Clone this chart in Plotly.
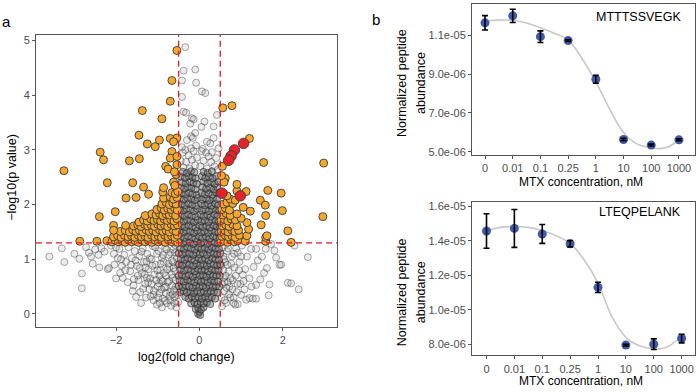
import math
import plotly.graph_objects as go

# ---------------- Volcano data (log2 fold change, -log10 p) ----------------
gray_left = [(-3.60,1.05),(-3.24,0.95),(-2.88,1.01),(-2.82,0.74),(-2.82,0.47),(-2.72,1.22),(-2.65,1.12),(-2.56,0.92),
 (-2.50,1.18),(-2.42,1.08),(-2.35,1.20),(-2.28,1.14),(-2.20,0.82),(-2.17,0.84),(-2.12,1.25),(-2.05,1.10),(-2.04,0.90),
 (-2.00,0.65),(-1.96,1.02),(-1.92,1.19),(-1.86,0.88),(-1.84,0.66),(-1.80,1.08),(-1.76,0.95),(-1.70,1.22),(-1.66,0.78),
 (-1.62,1.02),(-1.58,0.52),(-1.55,1.15),(-1.52,0.31),(-1.50,0.88),(-1.46,0.62),(-1.44,1.06),(-1.42,0.40),(-1.38,0.75),
 (-1.36,1.20),(-1.33,0.95),(-1.30,0.55),(-1.28,0.30),(-1.25,1.10),(-1.22,0.82),(-1.20,0.45),(-1.18,0.65),(-1.15,1.00),
 (-1.12,1.24),(-1.10,0.25),(-1.08,0.72),(-1.05,0.90),(-1.02,0.17),(-1.00,0.50),(-0.98,1.15),(-0.96,0.38),(-0.94,0.80),
 (-0.92,0.62),(-0.90,1.02),(-0.88,0.28),(-0.86,0.95),(-0.84,0.48),(-0.82,1.22),(-0.80,0.70),(-0.78,0.20),(-0.76,0.58),
 (-0.74,1.08),(-0.72,0.86),(-0.70,0.40),(-0.68,0.15),(-0.66,0.98),(-0.64,0.66),(-0.62,1.18),(-0.60,0.30),(-0.58,0.78),
 (-0.56,0.50),(-0.55,0.12),(-0.54,1.02),(-0.52,0.90),(-0.51,0.22),(-0.80,0.38),(-1.30,0.85),(-1.90,0.75),(-2.40,0.85),
 (-1.60,0.42),(-1.10,0.35),(-0.90,0.12),(-1.40,0.20),(-0.70,0.25),(-2.60,1.05),(-3.00,1.10),(-3.30,1.20),(-2.00,1.22),
 (-1.15,0.55),(-0.66,0.52),(-0.74,0.92),(-0.62,0.84),(-0.88,0.60),(-1.02,1.10),(-0.58,1.26),(-0.96,0.70),(-1.26,0.66),
 (-0.53,0.35),(-0.57,0.62),(-0.61,0.44),(-0.63,0.95),(-0.67,0.72),(-0.69,1.12),(-0.71,0.33),(-0.73,0.60),(-0.77,0.82),
 (-0.79,1.18),(-0.81,0.50),(-0.83,0.24),(-0.85,0.75),(-0.87,1.08),(-0.91,0.45),(-0.93,0.92),(-0.97,0.56),(-0.99,0.30),
 (-1.01,0.80),(-1.04,0.62),(-1.06,1.22),(-1.09,0.42),(-1.13,0.88),(-1.17,0.32),(-1.19,1.02),(-1.23,0.58),(-1.27,0.96),
 (-1.31,0.72),(-1.35,0.46),(-1.39,1.14),(-1.43,0.84),(-1.48,0.70),(-1.53,0.98),(-1.57,0.64),(-1.64,0.90),(-1.72,0.58),
 (-1.78,0.80),(-1.88,1.00),(-0.60,0.20),(-0.95,0.20),(-0.58,1.12),(-0.64,0.36)]

gray_right = [(2.60,1.04),(2.38,0.45),(2.12,0.57),(2.20,0.56),(1.68,0.54),(1.66,0.34),(1.92,0.90),(1.96,0.90),(1.62,0.84),
 (1.84,1.03),(1.80,1.16),(1.59,1.19),(1.36,1.19),(1.24,1.19),(1.30,0.86),(1.46,0.63),(1.36,0.53),(1.20,0.65),(1.08,0.45),
 (1.04,0.72),(0.96,0.95),(0.92,1.12),(1.20,0.29),(1.28,0.28),(1.36,0.28),(1.12,0.26),(0.92,0.18),(0.86,0.17),(1.72,1.28),
 (2.28,1.25),(1.50,1.05),(1.40,0.98),(1.14,1.05),(1.02,1.25),(0.98,0.55),(0.90,0.40),(0.84,0.85),(0.80,0.62),(0.78,1.05),
 (0.74,0.30),(0.72,0.50),(0.70,0.78),(0.66,1.15),(0.64,0.20),(0.62,0.95),(0.60,0.42),(0.58,0.66),(0.56,1.22),(0.54,0.14),
 (0.52,0.88),(1.10,0.82),(1.25,0.50),(0.88,1.20),(1.55,0.75),(1.00,0.35),(0.68,0.58),(0.76,0.92),(0.58,1.05),(0.82,0.30),
 (0.53,0.30),(0.55,0.55),(0.57,0.80),(0.59,1.00),(0.61,0.25),(0.63,0.70),(0.65,0.48),(0.67,0.90),(0.69,1.20),(0.71,0.36),
 (0.75,0.65),(0.79,0.45),(0.83,1.10),(0.87,0.70),(0.91,0.55),(0.95,0.80),(1.00,1.05),(1.06,0.60),(0.82,0.20),(0.60,0.58)]

gray_core = [(-0.03,0.00),(0.02,-0.02),(0.00,0.04),(-0.09,0.09),(-0.03,0.11),(0.04,0.08),(0.10,0.12),
 (-0.20,0.19),(-0.12,0.21),(-0.05,0.18),(0.03,0.22),(0.10,0.19),(0.18,0.21),(0.26,0.18),
 (-0.34,0.31),(-0.26,0.28),(-0.18,0.32),(-0.10,0.29),(-0.02,0.31),(0.06,0.28),(0.14,0.32),(0.22,0.29),(0.30,0.31),(0.38,0.28),
 (-0.46,0.40),(-0.38,0.42),(-0.30,0.39),(-0.21,0.41),(-0.13,0.38),(-0.05,0.42),(0.03,0.39),(0.11,0.41),(0.19,0.38),(0.27,0.42),(0.35,0.40),(0.44,0.39),
 (-0.50,0.51),(-0.41,0.49),(-0.33,0.52),(-0.24,0.50),(-0.16,0.48),(-0.08,0.52),(0.00,0.49),(0.08,0.51),(0.16,0.48),(0.24,0.52),(0.32,0.49),(0.40,0.51),(0.48,0.50),
 (-0.47,0.61),(-0.38,0.59),(-0.29,0.62),(-0.20,0.60),(-0.12,0.58),(-0.04,0.62),(0.04,0.59),(0.12,0.61),(0.20,0.58),(0.28,0.62),(0.36,0.60),(0.45,0.59),
 (-0.50,0.70),(-0.42,0.72),(-0.33,0.69),(-0.25,0.71),(-0.16,0.68),(-0.08,0.72),(0.01,0.70),(0.09,0.71),(0.17,0.68),(0.25,0.72),(0.33,0.69),(0.41,0.71),(0.49,0.70),
 (-0.46,0.81),(-0.37,0.79),(-0.28,0.82),(-0.20,0.80),(-0.11,0.78),(-0.03,0.82),(0.05,0.79),(0.13,0.81),(0.21,0.78),(0.29,0.82),(0.38,0.80),(0.46,0.79),
 (-0.49,0.91),(-0.41,0.89),(-0.32,0.92),(-0.24,0.90),(-0.15,0.88),(-0.07,0.92),(0.02,0.89),(0.10,0.91),(0.18,0.88),(0.26,0.92),(0.34,0.90),(0.43,0.89),(0.50,0.91),
 (-0.45,1.01),(-0.36,0.99),(-0.28,1.02),(-0.19,1.00),(-0.11,0.98),(-0.02,1.02),(0.06,0.99),(0.14,1.01),(0.22,0.98),(0.31,1.02),(0.39,1.00),(0.47,0.99),
 (-0.50,1.11),(-0.41,1.09),(-0.33,1.12),(-0.24,1.10),(-0.15,1.08),(-0.07,1.12),(0.01,1.09),(0.09,1.11),(0.18,1.08),(0.26,1.12),(0.35,1.10),(0.43,1.09),(0.50,1.11),
 (-0.46,1.21),(-0.37,1.19),(-0.29,1.22),(-0.20,1.20),(-0.11,1.18),(-0.03,1.22),(0.05,1.19),(0.13,1.21),(0.22,1.18),(0.30,1.22),(0.39,1.20),(0.47,1.19),
 (-0.49,1.31),(-0.40,1.29),(-0.32,1.32),(-0.23,1.30),(-0.14,1.28),(-0.06,1.32),(0.03,1.29),(0.11,1.31),(0.20,1.28),(0.28,1.32),(0.37,1.30),(0.45,1.29),
 (-0.45,1.41),(-0.36,1.39),(-0.27,1.42),(-0.18,1.40),(-0.10,1.38),(-0.01,1.42),(0.07,1.39),(0.16,1.41),(0.24,1.38),(0.33,1.42),(0.41,1.40),(0.49,1.39),
 (-0.48,1.51),(-0.39,1.49),(-0.31,1.52),(-0.22,1.50),(-0.13,1.48),(-0.05,1.52),(0.04,1.49),(0.12,1.51),(0.21,1.48),(0.29,1.52),(0.38,1.50),(0.46,1.49),
 (-0.44,1.61),(-0.35,1.59),(-0.26,1.62),(-0.17,1.60),(-0.09,1.58),(0.00,1.62),(0.08,1.59),(0.17,1.61),(0.25,1.58),(0.34,1.62),(0.42,1.60),(0.50,1.59),
 (-0.48,1.71),(-0.39,1.69),(-0.30,1.72),(-0.21,1.70),(-0.13,1.68),(-0.04,1.72),(0.05,1.69),(0.13,1.71),(0.22,1.68),(0.30,1.72),(0.39,1.70),(0.47,1.69),
 (-0.45,1.81),(-0.36,1.79),(-0.27,1.82),(-0.18,1.80),(-0.09,1.78),(0.02,1.82),(0.10,1.79),(0.19,1.81),(0.27,1.78),(0.36,1.82),(0.44,1.80),
 (-0.48,1.91),(-0.40,1.89),(-0.31,1.92),(-0.22,1.90),(-0.13,1.88),(-0.05,1.92),(0.06,1.89),(0.14,1.91),(0.23,1.88),(0.31,1.92),(0.40,1.90),(0.48,1.89),
 (-0.44,2.01),(-0.35,1.99),(-0.26,2.02),(-0.17,2.00),(-0.08,1.98),(0.04,2.02),(0.12,1.99),(0.21,2.01),(0.29,1.98),(0.38,2.02),(0.46,2.00),
 (-0.47,2.11),(-0.38,2.09),(-0.29,2.12),(-0.20,2.10),(-0.11,2.08),(-0.04,2.12),(0.07,2.09),(0.16,2.11),(0.24,2.08),(0.33,2.12),(0.42,2.10),
 (-0.43,2.21),(-0.34,2.19),(-0.25,2.22),(-0.16,2.20),(-0.07,2.18),(0.05,2.22),(0.13,2.19),(0.22,2.21),(0.31,2.18),(0.40,2.22),(0.48,2.20),
 (-0.46,2.31),(-0.37,2.29),(-0.28,2.32),(-0.19,2.30),(-0.10,2.28),(0.07,2.32),(0.16,2.29),(0.25,2.31),(0.34,2.28),(0.43,2.32),
 (-0.42,2.41),(-0.33,2.39),(-0.23,2.42),(-0.14,2.40),(-0.06,2.38),(0.09,2.42),(0.19,2.39),(0.28,2.41),(0.37,2.38),(0.46,2.42),
 (-0.45,2.51),(-0.35,2.49),(-0.26,2.52),(-0.17,2.50),(-0.09,2.48),(0.06,2.52),(0.14,2.49),(0.23,2.51),(0.32,2.48),(0.41,2.52),
 (-0.40,2.60),(-0.30,2.58),(-0.20,2.61),(-0.12,2.59),(0.10,2.60),(0.20,2.58),(0.30,2.61)]

gray_top = [(-0.34,4.88),(-0.38,4.45),(-0.10,4.47),(-0.42,4.27),(-0.08,4.23),(0.06,4.07),(0.14,4.04),(-0.42,3.97),
 (-0.38,3.70),(-0.32,3.68),(0.42,3.64),(0.34,3.43),(0.12,3.52),(-0.18,3.58),(-0.14,3.56),(-0.22,3.48),(0.05,3.42),
 (-0.10,3.31),(-0.20,3.25),(-0.16,3.22),(-0.30,3.18),(0.18,3.15),(0.26,3.12),(0.34,3.22),(-0.42,3.05),(-0.34,3.00),
 (-0.20,3.03),(-0.08,3.08),(0.08,3.02),(0.46,3.03),(-0.40,2.95),(-0.14,2.98),(0.05,2.98),(0.16,2.95),(0.30,2.96),
 (-0.26,2.90),(0.22,2.88),(-0.06,2.86),(0.40,2.85),(-0.45,2.80),(-0.32,2.78),(-0.18,2.82),(0.10,2.80),(0.28,2.78),
 (-0.10,2.72),(0.02,2.70),(0.36,2.70),(-0.38,2.68),(-0.24,2.66),(0.18,2.66),(0.44,2.64)]

orange_left = [(-2.87,1.33),(-2.46,1.33),(-2.22,1.34),(-2.10,1.32),(-2.02,1.35),(-1.94,1.32),(-1.86,1.34),(-1.78,1.31),
 (-1.70,1.35),(-1.62,1.32),(-1.54,1.34),(-1.46,1.31),(-1.38,1.35),(-1.30,1.32),(-1.22,1.34),(-1.14,1.31),(-1.06,1.35),
 (-0.98,1.32),(-0.90,1.34),(-0.82,1.31),(-0.74,1.35),(-0.66,1.32),(-0.58,1.34),(-0.52,1.31),
 (-2.06,1.41),(-1.96,1.43),(-1.88,1.40),(-1.80,1.44),(-1.71,1.41),(-1.63,1.43),(-1.55,1.40),(-1.47,1.44),(-1.39,1.41),
 (-1.31,1.43),(-1.23,1.40),(-1.15,1.44),(-1.07,1.41),(-0.99,1.43),(-0.91,1.40),(-0.83,1.44),(-0.75,1.41),(-0.67,1.43),
 (-0.59,1.40),(-0.53,1.44),
 (-1.90,1.51),(-1.78,1.53),(-1.68,1.50),(-1.60,1.54),(-1.52,1.51),(-1.44,1.53),(-1.36,1.50),(-1.28,1.54),(-1.20,1.51),
 (-1.12,1.53),(-1.04,1.50),(-0.96,1.54),(-0.88,1.51),(-0.80,1.53),(-0.72,1.50),(-0.64,1.54),(-0.56,1.51),
 (-2.06,1.62),(-1.77,1.62),(-1.58,1.61),(-1.48,1.63),(-1.40,1.60),(-1.32,1.64),(-1.24,1.61),(-1.16,1.63),(-1.08,1.60),
 (-1.00,1.64),(-0.92,1.61),(-0.84,1.63),(-0.76,1.60),(-0.68,1.64),(-0.60,1.61),(-0.53,1.63),
 (-1.45,1.68),(-1.34,1.72),(-1.25,1.70),(-1.17,1.74),(-1.09,1.71),(-1.01,1.73),(-0.93,1.70),(-0.85,1.74),(-0.77,1.71),
 (-0.69,1.73),(-0.61,1.70),(-0.54,1.74),
 (-1.30,1.80),(-1.14,1.83),(-1.04,1.81),(-0.96,1.84),(-0.88,1.80),(-0.80,1.83),(-0.72,1.81),(-0.64,1.84),(-0.57,1.80),
 (-1.02,1.91),(-0.92,1.94),(-0.84,1.90),(-0.76,1.93),(-0.68,1.91),(-0.60,1.94),(-0.53,1.90),
 (-0.90,2.01),(-0.80,2.04),(-0.72,2.00),(-0.64,2.03),(-0.56,2.01),
 (-0.86,2.12),(-0.70,2.14),(-0.62,2.10),(-0.54,2.13),(-0.88,2.23),(-0.66,2.22),(-0.58,2.20),(-0.52,2.24),
 (-2.40,1.78),(-2.02,1.87),(-2.06,1.53),(-2.21,2.40),(-1.60,2.40),(-1.34,2.32),(-1.22,2.19),(-1.76,2.12),(-1.52,2.13),
 (-0.86,2.31),(-0.62,2.41),(-0.59,2.35),
 (-0.54,4.82),(-0.66,4.27),(-0.70,3.89),(-1.37,3.72),(-0.90,3.57),(-1.45,3.27),(-1.25,3.11),(-1.06,3.06),(-0.96,3.18),
 (-0.70,3.21),(-0.54,3.22),(-0.62,3.15),(-2.38,2.96),(-2.30,2.82),(-1.68,2.80),(-1.44,2.84),(-3.25,2.62),(-0.66,2.97),
 (-0.70,2.85),(-0.54,2.88),(-0.81,2.70),(-0.75,2.65),(-0.54,2.73),(-0.56,2.55),(-0.60,2.60)]

orange_right = [(0.52,1.32),(0.60,1.34),(0.68,1.31),(0.76,1.35),(0.84,1.32),(0.92,1.34),(1.10,1.33),(1.59,1.33),(2.20,1.31),
 (0.54,1.42),(0.62,1.44),(0.70,1.41),(0.78,1.43),(0.86,1.40),(0.96,1.44),(1.14,1.43),(1.59,1.40),
 (0.53,1.51),(0.61,1.53),(0.69,1.50),(0.77,1.54),(0.85,1.51),(0.94,1.53),(1.18,1.55),(2.12,1.52),(1.62,1.43),
 (0.55,1.61),(0.63,1.63),(0.71,1.60),(0.80,1.64),(0.90,1.61),(1.14,1.67),(1.48,1.63),
 (0.52,1.71),(0.60,1.73),(0.68,1.70),(0.76,1.74),(0.86,1.72),(1.00,1.75),
 (0.56,1.81),(0.64,1.84),(0.74,1.80),(0.90,1.83),(1.59,1.80),
 (0.54,1.91),(0.62,1.94),(0.72,1.90),(1.22,1.88),(1.99,1.89),(1.05,1.95),
 (0.58,2.01),(0.66,2.04),(0.80,2.02),(0.74,2.10),(0.86,2.08),
 (0.66,2.16),(0.90,2.25),(0.90,2.37),(1.12,2.24),(0.62,2.48),(0.59,2.41),(0.53,2.53),(0.55,2.70),
 (1.46,2.08),(1.58,1.99),(1.64,2.26),(1.96,2.21),(2.96,1.78),(0.56,3.77),(0.78,3.81),(1.20,3.21),(1.54,2.77),(2.98,2.76)]

red_pts = [(1.06,3.12),(0.84,3.00),(0.76,2.89),(0.70,2.81),(0.54,2.21),(0.98,2.16)]

fc_cut = 0.5
p_cut = 0.05

# ---------------- Dose-response data ----------------
conc_labels = ["0", "0.01", "0.1", "0.25", "1", "10", "100", "1000"]
conc_idx = [0, 1, 2, 3, 4, 5, 6, 7]

pep1_name = "MTTTSSVEGK"
pep1_mean = [1.163e-5, 1.199e-5, 1.092e-5, 1.072e-5, 8.73e-6, 5.64e-6, 5.35e-6, 5.62e-6]
pep1_err = [0.37e-6, 0.34e-6, 0.30e-6, 0.05e-6, 0.20e-6, 0.06e-6, 0.05e-6, 0.05e-6]
pep1_fit_x = [0, 0.5, 1, 1.5, 2, 2.5, 3, 3.5, 4, 4.5, 5, 5.5, 6, 6.3, 6.6, 7]
pep1_fit_y = [1.172e-5, 1.177e-5, 1.176e-5, 1.162e-5, 1.138e-5, 1.11e-5, 1.075e-5, 9.8e-6, 8.6e-6, 7.2e-6,
              6.0e-6, 5.4e-6, 5.22e-6, 5.17e-6, 5.25e-6, 5.6e-6]
pep1_ticks = [5e-6, 7e-6, 9e-6, 1.1e-5]
pep1_ticktext = ["5.0e-06", "7.0e-06", "9.0e-06", "1.1e-05"]

pep2_name = "LTEQPELANK"
pep2_mean = [1.457e-5, 1.472e-5, 1.440e-5, 1.383e-5, 1.130e-5, 7.95e-6, 8.00e-6, 8.33e-6]
pep2_err = [1.0e-6, 1.1e-6, 0.55e-6, 0.18e-6, 0.30e-6, 0.05e-6, 0.31e-6, 0.25e-6]
pep2_fit_x = [0, 0.5, 1, 1.5, 2, 2.5, 3, 3.5, 4, 4.5, 5, 5.5, 6, 6.3, 6.6, 7]
pep2_fit_y = [1.458e-5, 1.478e-5, 1.483e-5, 1.478e-5, 1.46e-5, 1.43e-5, 1.385e-5, 1.29e-5, 1.155e-5, 9.6e-6,
              8.4e-6, 7.9e-6, 7.73e-6, 7.75e-6, 7.95e-6, 8.45e-6]
pep2_ticks = [8e-6, 1e-5, 1.2e-5, 1.4e-5, 1.6e-5]
pep2_ticktext = ["8.0e-06", "1.0e-05", "1.2e-05", "1.4e-05", "1.6e-05"]

# ---------------- Figure ----------------
W, H = 696, 392
FONT = "Liberation Sans, Arial, Helvetica, sans-serif"
fig = go.Figure()

def xs(pts): return [p[0] for p in pts]
def ys(pts): return [p[1] for p in pts]

gray_sparse = gray_left + gray_right + gray_top
fig.add_trace(go.Scatter(x=xs(gray_sparse), y=ys(gray_sparse), mode="markers", xaxis="x", yaxis="y",
    marker=dict(size=7, color="rgba(150,150,150,0.18)", line=dict(color="rgba(50,50,50,0.42)", width=1))))
fig.add_trace(go.Scatter(x=xs(gray_core), y=ys(gray_core), mode="markers", xaxis="x", yaxis="y",
    marker=dict(size=7, color="rgba(100,100,100,0.45)", line=dict(color="rgba(35,35,35,0.6)", width=1))))
orange = orange_left + orange_right
fig.add_trace(go.Scatter(x=xs(orange), y=ys(orange), mode="markers", xaxis="x", yaxis="y",
    marker=dict(size=8, color="#F6A82E", line=dict(color="#3a3a3a", width=0.9))))
fig.add_trace(go.Scatter(x=xs(red_pts), y=ys(red_pts), mode="markers", xaxis="x", yaxis="y",
    marker=dict(size=10.5, color="#E8222B", line=dict(color="#3a3a3a", width=0.9))))

def dose_panel(xa, ya, mean, err, fx, fy):
    fig.add_trace(go.Scatter(x=fx, y=fy, mode="lines", xaxis=xa, yaxis=ya,
        line=dict(color="#c8c8c8", width=1.6, shape="spline", smoothing=1.0)))
    fig.add_trace(go.Scatter(x=conc_idx, y=mean, mode="markers", xaxis=xa, yaxis=ya,
        marker=dict(size=9, color="#3E5BAA")))
    fig.add_trace(go.Scatter(x=conc_idx, y=mean, mode="markers", xaxis=xa, yaxis=ya,
        marker=dict(size=9, opacity=0),
        error_y=dict(type="data", array=err, visible=True, color="black", thickness=1.6, width=3)))

dose_panel("x2", "y2", pep1_mean, pep1_err, pep1_fit_x, pep1_fit_y)
dose_panel("x3", "y3", pep2_mean, pep2_err, pep2_fit_x, pep2_fit_y)

axis_style = dict(showline=True, mirror=True, linecolor="#555555", linewidth=1, ticks="outside", ticklen=3,
                  tickwidth=1, tickcolor="#555555", showgrid=False, zeroline=False,
                  tickfont=dict(family=FONT, size=11, color="#4d4d4d"))

def px_x(a, b): return [a / W, b / W]
def px_y(top, bot): return [1 - bot / H, 1 - top / H]

fig.update_layout(
    width=W, height=H, margin=dict(l=0, r=0, t=0, b=0), showlegend=False,
    plot_bgcolor="white", paper_bgcolor="white", font=dict(family=FONT),
    xaxis=dict(domain=px_x(36, 337), range=[-3.92, 3.30], tickvals=[-2, 0, 2], ticktext=["\u22122", "0", "2"],
               anchor="y", **axis_style),
    yaxis=dict(domain=px_y(33, 329), range=[-0.235, 5.11], tickvals=[0, 1, 2, 3, 4, 5], anchor="x", **axis_style),
    xaxis2=dict(domain=px_x(472, 695), range=[-0.47, 7.58], tickvals=conc_idx, ticktext=conc_labels,
                anchor="y2", **axis_style),
    yaxis2=dict(domain=px_y(2, 155), range=[4.84e-6, 1.26e-5], tickvals=pep1_ticks, ticktext=pep1_ticktext,
                anchor="x2", **axis_style),
    xaxis3=dict(domain=px_x(472, 695), range=[-0.52, 7.48], tickvals=conc_idx, ticktext=conc_labels,
                anchor="y3", **axis_style),
    yaxis3=dict(domain=px_y(203, 358), range=[7.35e-6, 1.623e-5], tickvals=pep2_ticks, ticktext=pep2_ticktext,
                anchor="x3", **axis_style),
)

y_cut = -math.log10(p_cut)
dash = dict(color="#E41A1C", width=1.3, dash="6px,4px")
for xv in (-fc_cut, fc_cut):
    fig.add_shape(type="line", xref="x", yref="y domain", x0=xv, x1=xv, y0=0, y1=1, line=dash)
fig.add_shape(type="line", xref="x domain", yref="y", x0=0, x1=1, y0=y_cut, y1=y_cut, line=dash)

def ann(text, x, y, size=12.5, color="black", angle=0, xanchor="center"):
    fig.add_annotation(text=text, x=x / W, y=1 - y / H, xref="paper", yref="paper", showarrow=False,
                       textangle=angle, xanchor=xanchor, yanchor="middle",
                       font=dict(family=FONT, size=size, color=color))

ann("a", 6, 20, size=15)
ann("b", 376, 18, size=15)
ann("log2(fold change)", 186.5, 360)
ann("\u2212log10(p value)", 12, 178, angle=-90)
ann("MTX concentration, nM", 581, 182, size=12)
ann("MTX concentration, nM", 581, 384, size=12)
ann("Normalized peptide", 402, 82, angle=-90)
ann("abundance", 421, 82, angle=-90)
ann("Normalized peptide", 402, 294, angle=-90)
ann("abundance", 421, 294, angle=-90)
ann(pep1_name, 683, 15, xanchor="right")
ann(pep2_name, 683, 213, xanchor="right")

fig.write_html("out.html")
